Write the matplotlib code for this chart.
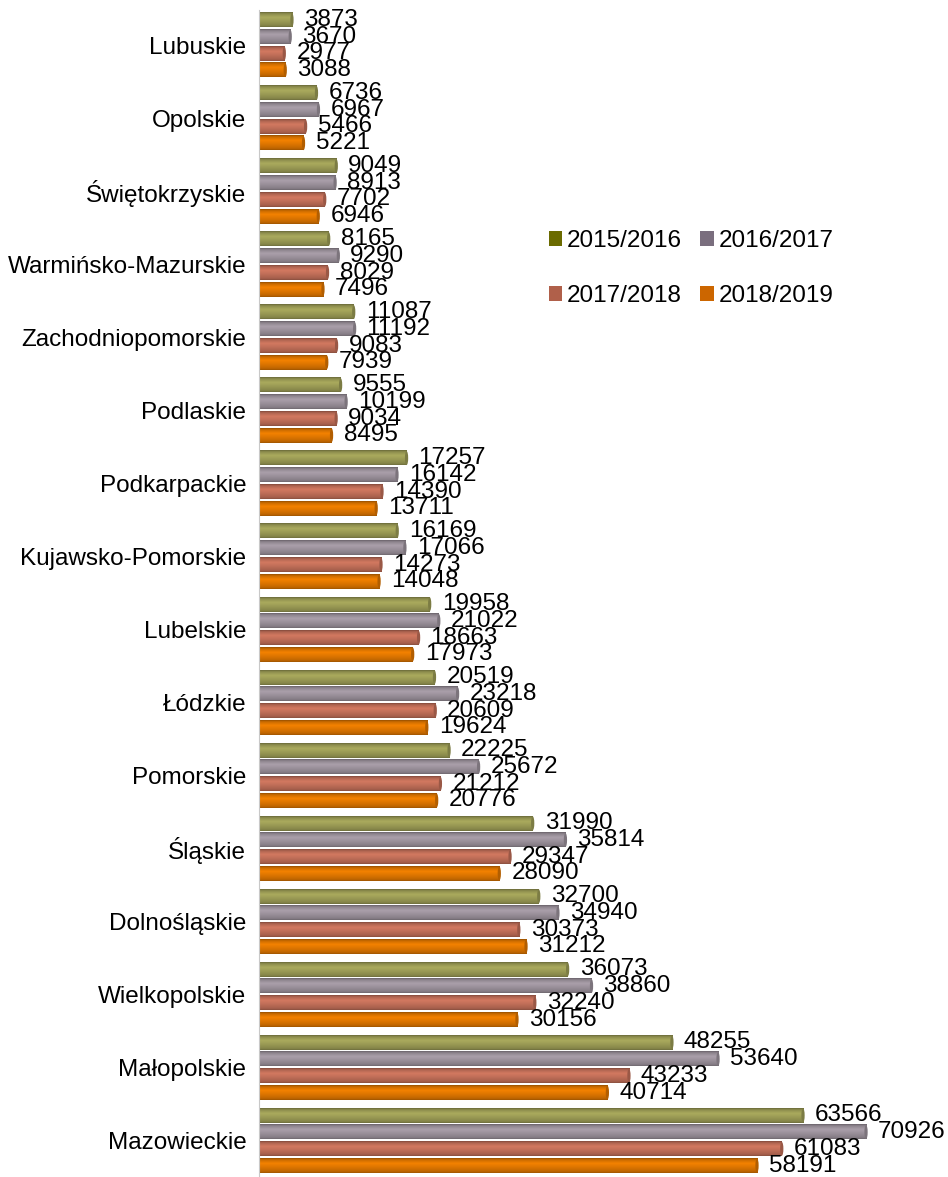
import numpy as np
import matplotlib
matplotlib.use("Agg")
import matplotlib.pyplot as plt
from matplotlib.patches import Ellipse, Patch
from matplotlib.colors import to_rgb

plt.rcParams["font.family"] = ["Liberation Sans", "DejaVu Sans"]

REGIONS = [
    "Lubuskie", "Opolskie", "Świętokrzyskie", "Warmińsko-Mazurskie",
    "Zachodniopomorskie", "Podlaskie", "Podkarpackie", "Kujawsko-Pomorskie",
    "Lubelskie", "Łódzkie", "Pomorskie", "Śląskie", "Dolnośląskie",
    "Wielkopolskie", "Małopolskie", "Mazowieckie",
]
SERIES = ["2015/2016", "2016/2017", "2017/2018", "2018/2019"]
Y2015 = [3873, 6736, 9049, 8165, 11087, 9555, 17257, 16169, 19958, 20519,
         22225, 31990, 32700, 36073, 48255, 63566]
Y2016 = [3670, 6967, 8913, 9290, 11192, 10199, 16142, 17066, 21022, 23218,
         25672, 35814, 34940, 38860, 53640, 70926]
Y2017 = [2977, 5466, 7702, 8029, 9083, 9034, 14390, 14273, 18663, 20609,
         21212, 29347, 30373, 32240, 43233, 61083]
Y2018 = [3088, 5221, 6946, 7496, 7939, 8495, 13711, 14048, 17973, 19624,
         20776, 28090, 31212, 30156, 40714, 58191]

# (bar colour, legend swatch colour)
COLORS = [
    ("#9b9b55", "#6b6b00"),
    ("#9b919b", "#7a6e7e"),
    ("#c06e58", "#b0604a"),
    ("#de7600", "#cc6600"),
]
FS = 17.5


def shade(color, n=40):
    """Vertical cylinder-like gradient for one bar."""
    base = np.array(to_rgb(color))
    t = np.linspace(0, 1, n)
    f = np.interp(t, [0, 0.1, 0.35, 0.6, 0.9, 1.0],
                  [0.68, 0.9, 1.1, 1.0, 0.86, 0.72])
    rows = np.clip(base[None, :] * f[:, None], 0, 1)
    return rows[:, None, :]


def main():
    fig = plt.figure(figsize=(9.48, 11.77), dpi=100)
    ax = fig.add_axes([0.273, 0.0, 0.727, 0.9915])

    data = [Y2015, Y2016, Y2017, Y2018]
    pitch = 0.229
    h = 0.2
    cap_w = 380
    for s, (vals, (col, _)) in enumerate(zip(data, COLORS)):
        img = shade(col)
        cap = np.array(to_rgb(col)) * 0.8
        for i, v in enumerate(vals):
            yc = i + (s - 1.5) * pitch
            ax.imshow(img, extent=[0, v, yc + h / 2, yc - h / 2],
                      aspect="auto", interpolation="bilinear", zorder=2)
            ax.add_patch(Ellipse((v, yc), cap_w, h * 0.95, facecolor=cap,
                                 edgecolor="none", zorder=3))
            ax.annotate(f"{v}", (v, yc), xytext=(12, 0),
                        textcoords="offset pixels", va="center", ha="left",
                        fontsize=FS, color="black", zorder=4)

    ax.set_xlim(0, 80500)
    ax.set_ylim(15.5, -0.48)
    ax.set_yticks(range(len(REGIONS)))
    ax.set_yticklabels(REGIONS, fontsize=FS)
    ax.tick_params(axis="y", length=0, pad=9)
    ax.set_xticks([])
    for side in ("top", "right", "bottom"):
        ax.spines[side].set_visible(False)
    ax.spines["left"].set_color("#c8c8c8")
    ax.spines["left"].set_zorder(5)

    # legend fills column-wise, so reorder to read row-wise like the original
    order = [0, 2, 1, 3]
    handles = [Patch(facecolor=COLORS[k][1], edgecolor="none") for k in order]
    labels = [SERIES[k] for k in order]
    fig.legend(handles, labels, loc="upper left",
               bbox_to_anchor=(0.579, 0.8045), ncol=2, frameon=False,
               fontsize=FS, handlelength=0.55, handleheight=0.55,
               handletextpad=0.2, columnspacing=0.75, labelspacing=1.35,
               borderpad=0, borderaxespad=0)

    fig.savefig("out.png", dpi=100)


if __name__ == "__main__":
    main()
